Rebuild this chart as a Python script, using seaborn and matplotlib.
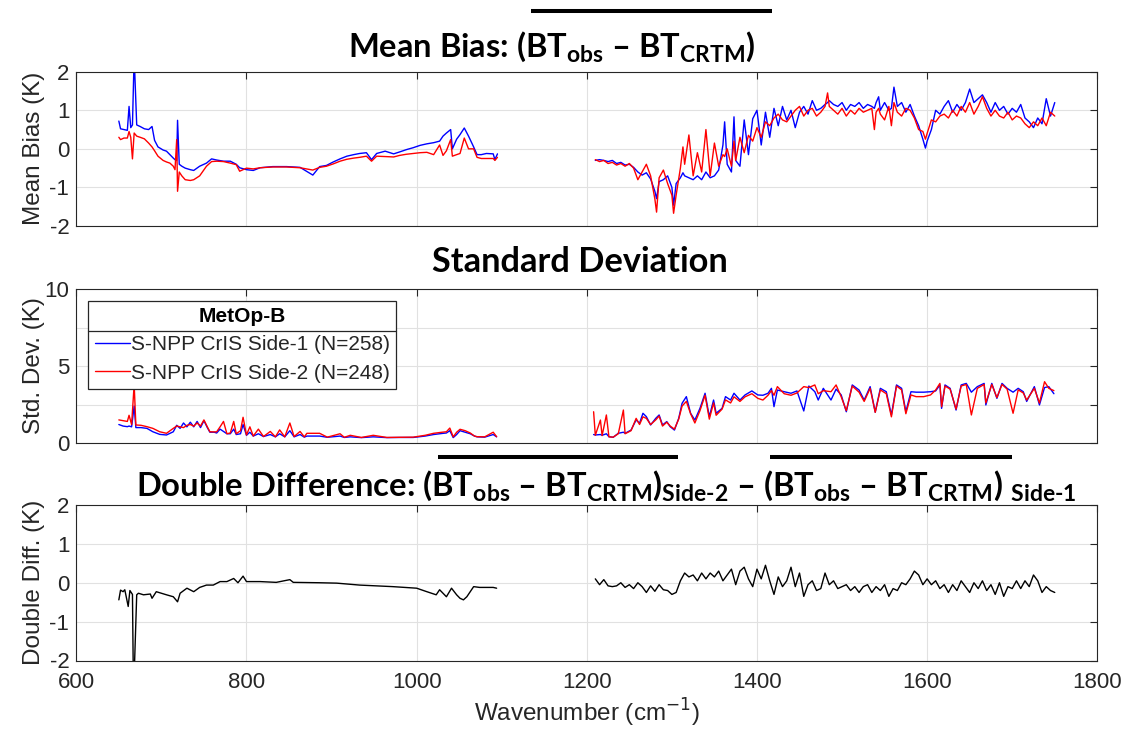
import numpy as np
import matplotlib
matplotlib.use("Agg")
import matplotlib.pyplot as plt
import seaborn as sns
from matplotlib.lines import Line2D

# ---------------- data ----------------
wn_lw = [650, 652, 656, 660, 662, 664, 666, 668, 671, 675, 680, 685, 689, 692, 696, 702, 706, 710, 714, 716,
         718, 719, 721, 724, 728, 734, 738, 745, 753, 759, 765, 773, 781, 788, 792, 800, 808, 816, 831, 847,
         863, 878, 886, 894, 902, 910, 918, 926, 933, 941, 947, 953, 963, 973, 980, 988, 996, 1004, 1012, 1020,
         1027, 1031, 1035, 1040, 1042, 1047, 1051, 1056, 1061, 1067, 1071, 1076, 1082, 1090, 1092, 1095]
bias_side1_lw = [0.72, 0.52, 0.50, 0.48, 1.10, 0.55, 0.62, 2.40, 0.62, 0.58, 0.52, 0.50, 0.58, 0.22, 0.05, -0.03,
                 -0.06, -0.15, -0.24, -0.28, -0.30, 0.74, -0.40, -0.45, -0.50, -0.54, -0.56, -0.45, -0.37, -0.26,
                 -0.29, -0.32, -0.32, -0.40, -0.49, -0.54, -0.56, -0.49, -0.46, -0.46, -0.48, -0.68, -0.46, -0.43,
                 -0.34, -0.26, -0.19, -0.15, -0.12, -0.10, -0.28, -0.12, -0.06, -0.13, -0.08, -0.02, 0.03, 0.09,
                 0.13, 0.16, 0.20, 0.33, 0.41, 0.50, 0.00, 0.25, 0.37, 0.54, 0.33, 0.05, -0.15, -0.15, -0.12,
                 -0.13, -0.28, -0.13]
bias_side2_lw = [0.30, 0.24, 0.28, 0.28, 0.45, 0.30, -0.26, 0.41, 0.33, 0.30, 0.26, 0.15, 0.05, -0.05, -0.19,
                 -0.30, -0.34, -0.37, -0.45, -0.54, 0.24, -1.10, -0.60, -0.70, -0.80, -0.82, -0.80, -0.70, -0.45,
                 -0.33, -0.32, -0.33, -0.37, -0.41, -0.58, -0.50, -0.52, -0.49, -0.47, -0.47, -0.49, -0.55, -0.48,
                 -0.45, -0.39, -0.32, -0.27, -0.24, -0.22, -0.19, -0.32, -0.19, -0.20, -0.21, -0.17, -0.14, -0.12,
                 -0.10, -0.09, -0.15, 0.10, -0.17, -0.05, 0.24, -0.19, -0.15, -0.12, 0.28, 0.00, 0.00, -0.22,
                 -0.25, -0.25, -0.25, -0.30, -0.22]

wn_mw = [1210, 1215, 1220, 1225, 1230, 1235, 1240, 1245, 1250, 1255, 1260, 1265, 1270, 1275, 1280, 1282, 1285,
         1290, 1295, 1300, 1302, 1305, 1310, 1313, 1315, 1320, 1325, 1330, 1335, 1340, 1345, 1350, 1355, 1360,
         1362, 1365, 1370, 1373, 1375, 1380, 1385, 1390, 1395, 1400, 1405, 1410, 1415, 1420, 1425, 1430, 1435,
         1440, 1445, 1450, 1455, 1460, 1465, 1470, 1475, 1480, 1483, 1485, 1490, 1495, 1500, 1505, 1510, 1515,
         1520, 1525, 1530, 1535, 1538, 1540, 1543, 1545, 1550, 1555, 1558, 1561, 1565, 1570, 1575, 1580, 1585,
         1590, 1595, 1598, 1600, 1605, 1610, 1615, 1620, 1625, 1630, 1635, 1640, 1645, 1650, 1655, 1660, 1665,
         1670, 1675, 1680, 1685, 1690, 1695, 1700, 1705, 1710, 1715, 1720, 1725, 1730, 1735, 1740, 1745, 1750]
bias_side1_mw = [-0.30, -0.28, -0.30, -0.33, -0.30, -0.38, -0.35, -0.42, -0.40, -0.48, -0.60, -0.68, -0.62,
                 -0.78, -1.10, -1.29, -0.85, -0.80, -0.70, -1.00, -1.46, -0.90, -0.75, -0.62, -0.70, -0.75,
                 -0.80, -0.70, -0.80, -0.60, -0.75, -0.70, -0.55, 0.10, 0.70, -0.40, -0.60, 0.83, -0.30, -0.45,
                 0.75, -0.15, 0.78, 1.00, 0.10, 0.95, 0.30, 1.05, 0.60, 1.10, 0.75, 1.00, 0.55, 0.95, 1.10, 0.90,
                 1.25, 1.00, 1.05, 1.15, 1.20, 1.25, 1.15, 1.10, 1.20, 1.00, 1.15, 1.10, 1.20, 1.05, 1.15, 1.10,
                 1.05, 1.20, 1.35, 1.00, 1.20, 1.00, 1.05, 1.60, 1.10, 1.20, 0.95, 1.15, 0.85, 0.60, 0.25, 0.02,
                 0.20, 0.50, 1.00, 0.90, 1.10, 1.25, 0.95, 1.15, 1.00, 1.20, 1.55, 1.20, 1.30, 1.40, 1.20, 0.95,
                 1.20, 1.00, 1.10, 0.90, 1.05, 0.95, 1.15, 0.80, 0.70, 0.55, 0.80, 0.65, 1.30, 0.85, 1.20]
bias_side2_mw = [-0.28, -0.33, -0.30, -0.38, -0.35, -0.42, -0.38, -0.45, -0.38, -0.50, -0.80, -0.60, -0.40,
                 -0.70, -1.30, -1.64, -0.75, -0.55, -0.90, -1.20, -1.67, -1.20, -0.50, 0.05, -0.40, 0.36, -0.70,
                 -0.10, -0.60, 0.50, -0.70, 0.15, -0.45, -0.15, -0.20, 0.00, -0.45, 0.20, -0.30, 0.30, -0.10,
                 0.35, 0.20, 0.55, 0.30, 0.70, 0.60, 0.80, 0.90, 0.75, 0.70, 0.85, 1.00, 1.10, 0.85, 1.00, 1.05,
                 0.85, 0.95, 1.10, 1.45, 1.10, 1.00, 0.90, 1.05, 0.85, 1.00, 0.90, 1.05, 0.95, 1.00, 1.05, 0.50,
                 0.95, 1.05, 0.90, 0.75, 1.10, 0.60, 1.20, 0.95, 0.85, 1.05, 1.00, 0.80, 0.50, 0.45, 0.25, 0.40,
                 0.75, 0.70, 0.85, 0.90, 0.80, 1.00, 0.85, 1.10, 0.95, 1.20, 0.90, 1.10, 1.35, 1.05, 0.85, 1.00,
                 0.85, 0.80, 0.95, 0.75, 0.85, 0.80, 0.65, 0.55, 0.70, 0.60, 0.80, 0.60, 0.95, 0.85]

wn_std_lw = [650, 655, 660, 662, 665, 668, 670, 676, 683, 690, 698, 706, 714, 718, 722, 726, 730, 734, 738, 742,
             746, 750, 754, 757, 762, 765, 769, 773, 777, 781, 785, 788, 793, 796, 800, 804, 808, 814, 820, 828,
             834, 839, 845, 851, 856, 863, 868, 871, 878, 886, 895, 910, 915, 922, 935, 949, 965, 980, 996, 1010,
             1020, 1030, 1035, 1039, 1043, 1047, 1051, 1057, 1063, 1068, 1071, 1080, 1090, 1094]
std_side1_lw = [1.20, 1.10, 1.06, 1.10, 1.05, 2.40, 1.00, 1.00, 0.95, 0.73, 0.56, 0.52, 0.73, 1.15, 0.95, 1.30,
                1.05, 1.35, 1.05, 1.40, 1.00, 1.45, 1.00, 0.70, 0.70, 0.65, 0.90, 0.75, 0.60, 0.60, 0.90, 0.55,
                0.60, 1.20, 0.50, 0.70, 0.45, 0.60, 0.42, 0.55, 0.40, 0.60, 0.40, 0.80, 0.40, 0.55, 0.38, 0.45,
                0.45, 0.45, 0.37, 0.45, 0.36, 0.40, 0.35, 0.40, 0.35, 0.36, 0.36, 0.45, 0.55, 0.62, 0.65, 0.80,
                0.35, 0.55, 0.80, 0.70, 0.60, 0.45, 0.40, 0.38, 0.55, 0.40]
std_side2_lw = [1.50, 1.45, 1.40, 1.80, 1.20, 3.80, 1.17, 1.15, 1.06, 0.95, 0.73, 0.63, 0.95, 1.10, 1.05, 1.00,
                1.15, 1.20, 1.10, 1.30, 1.10, 1.50, 1.05, 0.73, 0.72, 0.73, 1.05, 1.40, 0.60, 0.65, 1.40, 0.60,
                0.80, 1.67, 0.52, 1.05, 0.45, 0.90, 0.42, 0.75, 0.40, 0.85, 0.40, 1.30, 0.42, 0.75, 0.40, 0.63,
                0.63, 0.63, 0.38, 0.60, 0.37, 0.50, 0.36, 0.50, 0.36, 0.37, 0.38, 0.50, 0.63, 0.70, 0.73, 0.97,
                0.40, 0.70, 0.89, 0.80, 0.65, 0.45, 0.41, 0.40, 0.70, 0.41]

wn_std_mw = [1208, 1210, 1216, 1218, 1223, 1226, 1231, 1237, 1243, 1245, 1252, 1258, 1262, 1266, 1270, 1275, 1281,
             1285, 1289, 1294, 1298, 1303, 1308, 1312, 1317, 1322, 1327, 1333, 1339, 1344, 1349, 1352, 1359, 1363,
             1369, 1373, 1380, 1386, 1394, 1401, 1407, 1413, 1417, 1420, 1424, 1432, 1440, 1447, 1455, 1461, 1468,
             1472, 1478, 1487, 1493, 1499, 1505, 1512, 1520, 1526, 1533, 1539, 1545, 1552, 1558, 1564, 1570, 1575,
             1581, 1587, 1596, 1604, 1610, 1615, 1617, 1621, 1627, 1634, 1640, 1646, 1652, 1659, 1667, 1669, 1676,
             1682, 1688, 1694, 1701, 1707, 1713, 1717, 1726, 1732, 1738, 1743, 1749]
std_side1_mw = [0.55, 0.52, 0.55, 0.50, 0.60, 0.41, 0.37, 0.63, 0.70, 0.63, 0.84, 1.50, 1.28, 1.93, 1.71, 1.17,
                1.60, 1.82, 1.17, 1.39, 1.06, 0.84, 1.60, 2.58, 3.01, 1.93, 1.49, 2.25, 3.23, 1.71, 2.79, 1.93,
                2.25, 3.01, 2.79, 3.23, 2.79, 3.12, 3.38, 3.12, 3.10, 3.23, 3.55, 2.36, 3.44, 3.33, 3.23, 3.38,
                2.08, 3.70, 3.33, 2.79, 3.55, 2.79, 3.50, 3.12, 2.03, 3.77, 3.44, 2.79, 3.66, 2.00, 3.55, 3.33,
                1.82, 3.77, 3.55, 2.03, 3.33, 3.30, 3.30, 3.33, 3.38, 3.77, 2.25, 3.77, 3.55, 2.14, 3.77, 3.87,
                3.30, 3.66, 3.87, 2.47, 3.87, 2.90, 3.87, 3.55, 3.30, 3.55, 3.33, 2.70, 3.66, 2.47, 3.60, 3.66,
                3.20]
std_side2_mw = [2.03, 0.50, 1.49, 0.48, 1.82, 0.40, 0.38, 0.60, 2.14, 0.60, 0.80, 1.60, 1.20, 1.70, 1.60, 1.20,
                1.50, 1.75, 1.10, 1.35, 1.10, 0.90, 1.55, 2.40, 2.70, 1.90, 1.30, 2.10, 3.10, 1.55, 2.60, 1.80,
                2.20, 2.80, 2.60, 3.00, 2.70, 3.00, 3.20, 2.90, 2.79, 3.10, 3.40, 3.10, 3.66, 3.20, 3.10, 3.25,
                3.66, 3.60, 3.77, 3.20, 3.40, 3.33, 3.77, 3.00, 2.10, 3.70, 3.30, 2.70, 3.55, 1.99, 3.45, 3.20,
                1.70, 3.70, 3.45, 1.90, 3.12, 3.01, 3.01, 3.12, 3.44, 3.87, 2.36, 3.70, 3.50, 2.20, 3.70, 3.80,
                1.82, 3.55, 3.80, 2.60, 3.80, 2.95, 3.80, 3.50, 1.93, 3.45, 3.25, 2.79, 3.55, 2.60, 3.98, 3.55,
                3.40]

wn_dd_lw = [650, 652, 655, 657, 661, 663, 666, 667, 668, 671, 673, 679, 687, 689, 694, 706, 714, 719, 722, 730,
            738, 745, 753, 761, 769, 777, 785, 790, 796, 800, 816, 835, 851, 855, 886, 906, 933, 972, 1000, 1012,
            1023, 1027, 1035, 1041, 1047, 1051, 1055, 1059, 1067, 1074, 1090, 1094]
dd_lw = [-0.44, -0.19, -0.23, -0.18, -0.61, -0.20, -0.30, -2.40, -2.40, -0.31, -0.27, -0.31, -0.29, -0.40, -0.23,
         -0.31, -0.36, -0.49, -0.27, -0.14, -0.23, -0.12, -0.06, -0.06, 0.03, 0.03, 0.11, 0.00, 0.17, 0.03, 0.03,
         0.01, 0.08, 0.01, 0.00, -0.01, -0.06, -0.10, -0.14, -0.23, -0.31, -0.18, -0.36, -0.14, -0.31, -0.40,
         -0.44, -0.36, -0.10, -0.12, -0.12, -0.14]
wn_dd_mw = list(range(1210, 1751, 5))
dd_mw = [0.10, -0.05, 0.08, -0.08, -0.10, -0.08, 0.00, -0.12, -0.05, -0.15, 0.00, -0.10, -0.25, -0.08, -0.22,
         -0.05, -0.18, -0.20, -0.30, -0.25, 0.05, 0.25, 0.15, 0.20, 0.05, 0.25, 0.10, 0.25, 0.15, 0.30, 0.05,
         0.20, 0.35, -0.05, 0.30, 0.40, 0.10, -0.10, 0.35, 0.10, 0.45, 0.05, -0.30, 0.15, -0.10, 0.05, 0.40,
         -0.10, 0.25, -0.35, -0.05, 0.05, -0.20, -0.15, 0.25, -0.05, 0.05, -0.15, -0.10, -0.05, -0.20, -0.10,
         -0.25, -0.10, -0.05, -0.25, -0.10, -0.20, -0.05, -0.35, -0.15, -0.20, 0.00, -0.05, 0.10, 0.30, 0.20,
         -0.05, 0.10, -0.05, 0.05, -0.15, -0.05, -0.25, -0.05, -0.20, 0.05, -0.10, -0.25, 0.00, -0.15, 0.05,
         -0.20, -0.05, -0.30, 0.00, -0.35, -0.10, -0.15, 0.05, -0.15, 0.05, -0.10, 0.20, 0.05, -0.25, -0.10,
         -0.20, -0.25]

x_ticks = [600, 800, 1000, 1200, 1400, 1600, 1800]
legend_title = "MetOp-B"
legend_labels = ["S-NPP CrIS Side-1 (N=258)", "S-NPP CrIS Side-2 (N=248)"]

# ---------------- style ----------------
sns.set_theme(style="white")
plt.rcParams["font.family"] = ["Liberation Sans", "DejaVu Sans"]
plt.rcParams["axes.unicode_minus"] = False
plt.rcParams["mathtext.fontset"] = "custom"
plt.rcParams["mathtext.rm"] = "Lato:bold"
plt.rcParams["mathtext.bf"] = "Lato:bold"
plt.rcParams["mathtext.it"] = "Lato:bold"
plt.rcParams["mathtext.sf"] = "Lato:bold"

AX = "#262626"
W, H = 1128, 736
fig = plt.figure(figsize=(W / 100, H / 100), dpi=100)
fig.patch.set_facecolor("white")


def rect(l, t, r, b):
    return [l / W, 1 - b / H, (r - l) / W, (b - t) / H]


ax1 = fig.add_axes(rect(76.3, 71.7, 1097.3, 226.0))
ax2 = fig.add_axes(rect(76.3, 289.0, 1097.3, 443.0))
ax3 = fig.add_axes(rect(76.3, 505.0, 1097.3, 660.5))

LW = 1.0
BLUE, RED = "#0000ff", "#ff0000"

# Mean bias
for x, y in [(wn_lw, bias_side1_lw), (wn_mw, bias_side1_mw)]:
    sns.lineplot(x=x, y=y, ax=ax1, color=BLUE, lw=LW, estimator=None, sort=False)
for x, y in [(wn_lw, bias_side2_lw), (wn_mw, bias_side2_mw)]:
    sns.lineplot(x=x, y=y, ax=ax1, color=RED, lw=LW, estimator=None, sort=False)

# Std dev
for x, y in [(wn_std_lw, std_side1_lw), (wn_std_mw, std_side1_mw)]:
    sns.lineplot(x=x, y=y, ax=ax2, color=BLUE, lw=LW, estimator=None, sort=False)
for x, y in [(wn_std_lw, std_side2_lw), (wn_std_mw, std_side2_mw)]:
    sns.lineplot(x=x, y=y, ax=ax2, color=RED, lw=LW, estimator=None, sort=False)

# Double difference
for x, y in [(wn_dd_lw, dd_lw), (wn_dd_mw, dd_mw)]:
    sns.lineplot(x=x, y=y, ax=ax3, color="black", lw=LW, estimator=None, sort=False)

for ax in (ax1, ax2, ax3):
    ax.set_xlim(600, 1800)
    ax.set_xticks(x_ticks)
    ax.grid(True, color="#e1e1e1", lw=0.8)
    ax.set_axisbelow(True)
    for s in ax.spines.values():
        s.set_color(AX)
        s.set_linewidth(0.8)
        s.set_visible(True)
    ax.tick_params(direction="in", length=5, width=0.8, colors=AX, top=True, right=True,
                   labelsize=16, labelcolor=AX)
    ax.tick_params(axis="y", pad=5)
    ax.tick_params(axis="x", pad=8)
    ax.set_xlabel("")

ax1.set_ylim(-2, 2)
ax1.set_yticks([-2, -1, 0, 1, 2])
ax3.set_ylim(-2, 2)
ax3.set_yticks([-2, -1, 0, 1, 2])
ax2.set_ylim(0, 10)
ax2.set_yticks([0, 2.5, 5, 7.5, 10])
ax2.set_yticklabels(["0", "", "5", "", "10"])
ax1.tick_params(axis="x", labelbottom=False)
ax2.tick_params(axis="x", labelbottom=False)

lab_kw = dict(fontsize=17.5, color=AX)
ax1.set_ylabel("Mean Bias (K)", **lab_kw)
ax2.set_ylabel("Std. Dev. (K)", **lab_kw)
ax3.set_ylabel("Double Diff. (K)", **lab_kw)
for ax in (ax1, ax2, ax3):
    ax.yaxis.set_label_coords(-0.031, 0.5)
ax3.set_xlabel("Wavenumber (cm$^{-1}$)", fontsize=17.5, color=AX, math_fontfamily="dejavusans",
               labelpad=3)

# Legend
handles = [Line2D([], [], color=BLUE, lw=LW), Line2D([], [], color=RED, lw=LW)]
leg = ax2.legend(handles, legend_labels, title=legend_title, loc="upper left",
                 bbox_to_anchor=(0.0118, 0.924), borderaxespad=0, frameon=True, fancybox=False,
                 framealpha=1, edgecolor=AX, fontsize=15, handlelength=1.7, handletextpad=0.05,
                 borderpad=0.3, labelspacing=0.45,
                 title_fontproperties={"weight": "bold", "size": 15})
leg.get_frame().set_linewidth(0.9)
for t in leg.get_texts():
    t.set_color(AX)
leg.get_title().set_color("black")

# Titles (Calibri-like bold) with overlines
tkw = dict(fontfamily="Lato", fontweight="bold", color="black", va="baseline", ha="left")
t1 = fig.text(347.7 / W, 1 - 57 / H,
              r"Mean Bias: (BT$_{\mathrm{obs}}$ – BT$_{\mathrm{CRTM}}$)", fontsize=24, **tkw)
t2 = fig.text(432 / W, 1 - 272 / H, "Standard Deviation", fontsize=24, **tkw)
t3 = fig.text(136 / W, 1 - 496 / H,
              r"Double Difference: (BT$_{\mathrm{obs}}$ – BT$_{\mathrm{CRTM}}$)$_{\text{Side-2}}$ – "
              r"(BT$_{\mathrm{obs}}$ – BT$_{\mathrm{CRTM}}$) $_{\text{Side-1}}$", fontsize=24, **tkw)

renderer = fig.canvas.get_renderer()
for t, target in [(t1, 754.4 - 347.7), (t2, 727 - 432), (t3, 1075 - 136)]:
    for _ in range(2):
        w = t.get_window_extent(renderer).width
        t.set_fontsize(t.get_fontsize() * target / w)


def hline(x0, x1, y, lw=2.9):
    fig.add_artist(Line2D([x0 / W, x1 / W], [1 - y / H, 1 - y / H], color="black", lw=lw,
                          solid_capstyle="butt", transform=fig.transFigure))


hline(531, 772, 11)
hline(438, 678, 457)
hline(770, 1012, 457)

# legend title separator (MATLAB-style legend title)
fig.canvas.draw()
lb = leg.get_window_extent(renderer)
tb = leg.get_title().get_window_extent(renderer)
eb = leg.get_texts()[0].get_window_extent(renderer)
ysep = (tb.y0 + eb.y1) / 2
fig.add_artist(Line2D([lb.x0 / W, lb.x1 / W], [ysep / H, ysep / H], color=AX, lw=0.9,
                      transform=fig.transFigure))

fig.savefig("out.png", dpi=100, facecolor="white")
